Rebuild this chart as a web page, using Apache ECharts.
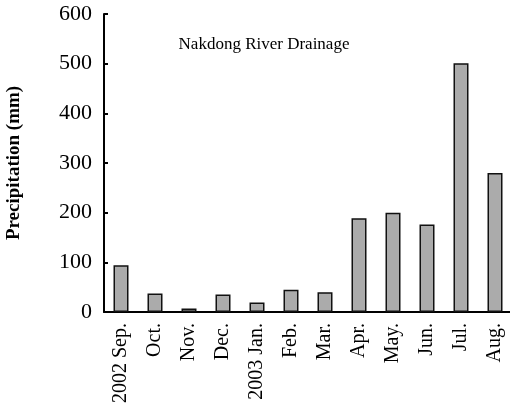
<!DOCTYPE html>
<html>
<head>
<meta charset="utf-8">
<script src="https://cdn.jsdelivr.net/npm/echarts@6/dist/echarts.min.js"></script>
<style>
    html, body { margin: 0; padding: 0; background: #ffffff; }
    #chart { width: 510px; height: 407px; }
</style>
</head>
<body>
<div id="chart"></div>
<script>
// Données
const months = ['2002 Sep.', 'Oct.', 'Nov.', 'Dec.', '2003 Jan.', 'Feb.', 'Mar.',
    'Apr.', 'May.', 'Jun.', 'Jul.', 'Aug.'];
const precipitation = [94, 37, 7, 35, 19, 45, 40, 189, 200, 176, 501, 280];
const yTicks = [0, 100, 200, 300, 400, 500, 600];

const chart = echarts.init(document.getElementById('chart'));
const serif = 'Liberation Serif';

const option = {
    backgroundColor: '#ffffff',
    animation: false,
    title: {
        text: 'Nakdong River Drainage',
        left: 259,
        top: 31,
        textAlign: 'center',
        textStyle: {
            fontFamily: serif,
            fontWeight: 'normal',
            fontSize: 17,
            color: '#000'
        }
    },
    grid: {
        left: 104,
        right: -2,
        top: 14,
        bottom: 95,
        outerBoundsMode: 'none'
    },
    xAxis: {
        type: 'category',
        data: months,
        axisLine: { lineStyle: { color: '#000', width: 2 } },
        axisTick: { inside: true, length: 4, lineStyle: { color: '#000', width: 2 } },
        axisLabel: {
            rotate: 90,
            interval: 0,
            margin: 11,
            fontFamily: serif,
            fontSize: 20,
            color: '#000'
        }
    },
    yAxis: {
        type: 'value',
        min: yTicks[0],
        max: yTicks[yTicks.length - 1],
        interval: 100,
        name: 'Precipitation (mm)',
        nameLocation: 'middle',
        nameGap: 80,
        nameTextStyle: {
            fontFamily: serif,
            fontWeight: 'bold',
            fontSize: 19,
            color: '#000'
        },
        splitLine: { show: false },
        axisLine: { show: true, lineStyle: { color: '#000', width: 2 } },
        axisTick: { show: true, inside: true, length: 4, lineStyle: { color: '#000', width: 2 } },
        axisLabel: {
            margin: 12,
            fontFamily: serif,
            fontSize: 22,
            color: '#000'
        }
    },
    series: [{
        type: 'bar',
        data: precipitation,
        barWidth: 15,
        itemStyle: {
            color: '#ababab',
            borderColor: '#111',
            borderWidth: 1.5
        }
    }]
};

chart.setOption(option);
</script>
</body>
</html>
